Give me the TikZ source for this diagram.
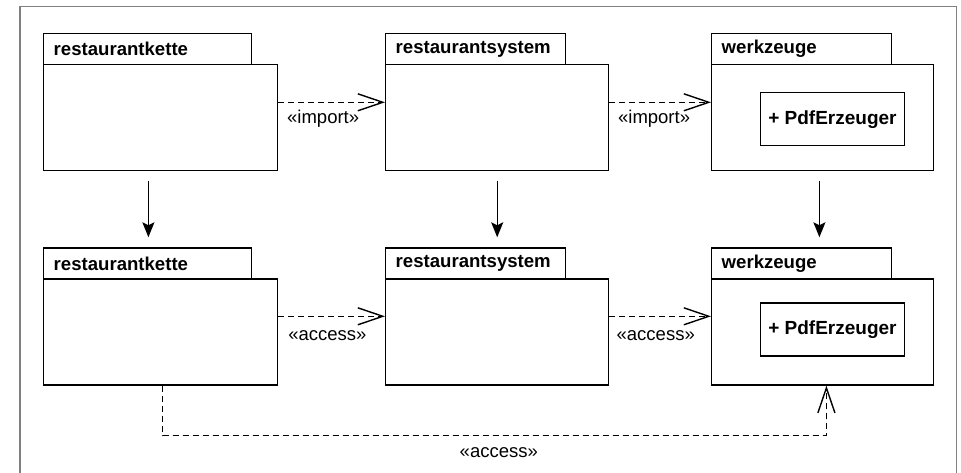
\documentclass[tikz,border=0pt]{standalone}
\usepackage{fontspec}
\setmainfont{Liberation Sans}
\usetikzlibrary{arrows.meta,calc}
\begin{document}
\begin{tikzpicture}[x=1pt,y=-1pt,
  every node/.style={font=\fontsize{18.5}{21}\selectfont},
  pkgbody/.style={draw, line width=1.4pt, anchor=north west, inner sep=0pt,
    minimum width=#1, minimum height=106pt},
  pkgtab/.style={draw, line width=1.4pt, anchor=north west, inner xsep=10pt, inner ysep=0pt,
    text width=#1, minimum height=31pt, align=left, font=\fontsize{18.6}{21}\selectfont\bfseries},
  classbox/.style={draw, line width=1.4pt, anchor=north west, inner sep=0pt,
    minimum width=143.5pt, minimum height=53pt, font=\fontsize{19}{21}\selectfont\bfseries},
  dep/.style={line width=1.4pt, dash pattern=on 6pt off 4pt,
    -{Straight Barb[length=25pt,width=17pt]}},
  refine/.style={line width=1.4pt, shorten <=10pt, shorten >=10pt,
    -{Stealth[length=15pt,width=12pt,inset=3pt]}},
  lbl/.style={anchor=base, inner sep=0pt}
]
\useasboundingbox (0,0) rectangle (961,473);
\clip (0,0) rectangle (961,473);
\draw[line width=1.2pt, draw={rgb,255:red,128;green,128;blue,128}] (20,6.7) rectangle (956.5,480);

% top row
\node[pkgbody=234pt] (b1) at (43,64) {};
\node[pkgtab=188pt] (t1) at (43,33) {restaurantkette};
\node[pkgbody=223pt] (b2) at (385,64) {};
\node[pkgtab=160pt] (t2) at (385,33) {restaurantsystem};
\node[pkgbody=222pt] (b3) at (711,64) {};
\node[pkgtab=160pt] (t3) at (711,33) {werkzeuge};
\node[classbox] (c3) at (760,92) {+ PdfErzeuger};

% bottom row
\node[pkgbody=234pt] (b4) at (43,278.3) {};
\node[pkgtab=188pt] (t4) at (43,247.3) {restaurantkette};
\node[pkgbody=223pt] (b5) at (385,278.3) {};
\node[pkgtab=160pt] (t5) at (385,247.3) {restaurantsystem};
\node[pkgbody=222pt] (b6) at (711,278.3) {};
\node[pkgtab=160pt] (t6) at (711,247.3) {werkzeuge};
\node[classbox] (c6) at (760,302.3) {+ PdfErzeuger};

% import dependencies
\draw[dep] ([yshift=-38.3pt]b1.north east) -- ([yshift=-38.3pt]b2.north west)
  node[lbl, pos=0.42, yshift=-21pt] {«import»};
\draw[dep] ([yshift=-38.3pt]b2.north east) -- ([yshift=-38.3pt]b3.north west)
  node[lbl, pos=0.44, yshift=-21pt] {«import»};

% access dependencies
\draw[dep] ([yshift=-38pt]b4.north east) -- ([yshift=-38pt]b5.north west)
  node[lbl, pos=0.46, yshift=-24pt] {«access»};
\draw[dep] ([yshift=-38pt]b5.north east) -- ([yshift=-38pt]b6.north west)
  node[lbl, pos=0.456, yshift=-24pt] {«access»};
\draw[dep] ([xshift=2pt]b4.south) -- ++(0,50) -| ([xshift=3.7pt]b6.south)
  node[lbl, pos=0.2532, yshift=-22pt] {«access»};

% vertical arrows
\draw[refine] ([xshift=-12.3pt]b1.south) -- ([xshift=-12.3pt]b1.south |- t4.north);
\draw[refine] (b2.south) -- (b2.south |- t5.north);
\draw[refine] ([xshift=-3.3pt]b3.south) -- ([xshift=-3.3pt]b3.south |- t6.north);
\end{tikzpicture}
\end{document}
